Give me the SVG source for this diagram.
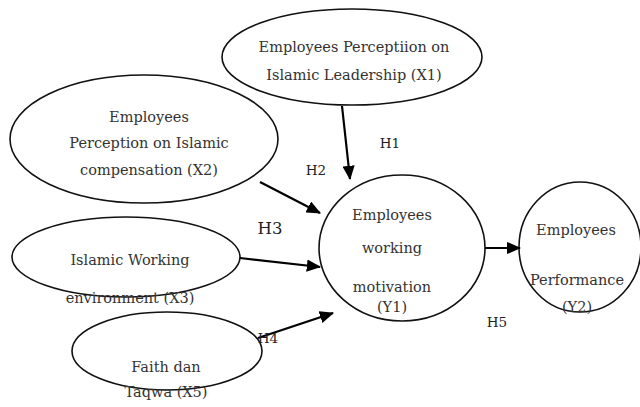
<svg xmlns="http://www.w3.org/2000/svg" width="640" height="407" viewBox="0 0 640 407">
<style>
.n{fill:none;stroke:#111;stroke-width:1.6}
.t{font-family:"DejaVu Serif","Liberation Serif",serif;font-size:14.5px;fill:#333;text-anchor:middle}
.h{font-family:"DejaVu Serif","Liberation Serif",serif;font-size:13.5px;fill:#222;text-anchor:middle}
.c{stroke:#000;stroke-width:2.2;fill:none;marker-end:url(#a)}
</style>
<defs>
<marker id="a" markerWidth="6.5" markerHeight="5.6" refX="6" refY="2.8" orient="auto" markerUnits="strokeWidth">
<path d="M0,0 L6.5,2.8 L0,5.6 Z" fill="#000"/>
</marker>
</defs>
<rect width="640" height="407" fill="#fff"/>
<g id="x1">
<ellipse class="n" cx="352" cy="57" rx="130" ry="48"/>
<text class="t" x="354" y="52">Employees Perceptiion on</text>
<text class="t" x="354" y="80">Islamic Leadership (X1)</text>
</g>
<g id="x2">
<ellipse class="n" cx="144" cy="139" rx="134" ry="64"/>
<text class="t" x="149" y="122">Employees</text>
<text class="t" x="149" y="148">Perception on Islamic</text>
<text class="t" x="149" y="175">compensation (X2)</text>
</g>
<g id="x3">
<ellipse class="n" cx="126" cy="257" rx="114" ry="40"/>
<text class="t" x="130" y="265">Islamic Working</text>
<text class="t" x="130" y="303">environment (X3)</text>
</g>
<g id="x5">
<ellipse class="n" cx="167" cy="351" rx="95" ry="39"/>
<text class="t" x="166" y="372">Faith dan</text>
<text class="t" x="166" y="397">Taqwa (X5)</text>
</g>
<g id="y1">
<ellipse class="n" cx="402" cy="248" rx="83" ry="73"/>
<text class="t" x="392" y="220">Employees</text>
<text class="t" x="392" y="253">working</text>
<text class="t" x="392" y="292">motivation</text>
<text class="t" x="392" y="312">(Y1)</text>
</g>
<g id="y2">
<ellipse class="n" cx="580" cy="247" rx="61" ry="65"/>
<text class="t" x="576" y="235">Employees</text>
<text class="t" x="577" y="285">Performance</text>
<text class="t" x="577" y="312">(Y2)</text>
</g>
<g id="connectors">
<line class="c" x1="342" y1="106" x2="350" y2="179"/>
<line class="c" x1="260" y1="182" x2="320" y2="213"/>
<line class="c" x1="240" y1="258" x2="320" y2="267"/>
<line class="c" x1="258" y1="338" x2="333" y2="313"/>
<line class="c" x1="485" y1="248" x2="520" y2="248"/>
<text class="h" x="390" y="148">H1</text>
<text class="h" x="316" y="175">H2</text>
<text class="h" x="270" y="234" style="font-size:16.5px">H3</text>
<text class="h" x="268" y="343">H4</text>
<text class="h" x="497" y="327">H5</text>
</g>
</svg>
